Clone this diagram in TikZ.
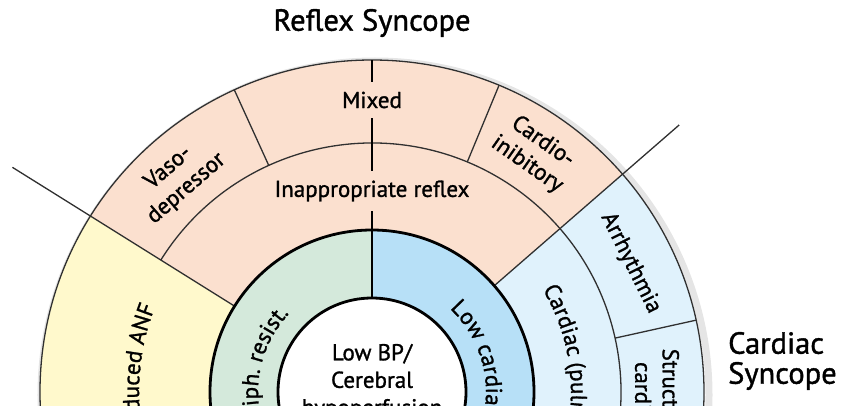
\documentclass[tikz,border=0pt]{standalone}
\usepackage{fontspec}
\setmainfont{PT Sans}[UprightFeatures={FakeBold=1.2}]
\usetikzlibrary{decorations.text}
\definecolor{reflexpink}{HTML}{FBE0CF}
\definecolor{anfyellow}{HTML}{FFF9CC}
\definecolor{resistgreen}{HTML}{D4E9DB}
\definecolor{outputblue}{HTML}{B7E0F7}
\definecolor{cardiacblue}{HTML}{E0F2FC}
\definecolor{rim}{HTML}{303030}
% annular sector: colour, from angle, to angle, outer radius, inner radius
\newcommand\ringpart[5]{\fill[#1] (#2:#4) arc[start angle=#2,end angle=#3,radius=#4] -- (#3:#5) arc[start angle=#3,end angle=#2,radius=#5] -- cycle;}
\newcommand\arctext[5]{\path[decorate,decoration={text along path,text align=#1,text={|\fontsize{23}{27}\selectfont|#5}}] (#2:#4) arc[start angle=#2,end angle=#3,radius=#4];}
\begin{document}
\begin{tikzpicture}[x=1pt,y=1pt,
  thinline/.style={draw=rim,line width=1.3pt},
  thickline/.style={draw=black,line width=2.8pt},
  lbl/.style={font=\fontsize{23}{27.5}\selectfont,inner sep=0pt,align=center},
  big/.style={font=\fontsize{30.5}{30}\selectfont,inner sep=0pt}]
\useasboundingbox (-372,-13) rectangle (478,392);
\clip (-372,-13) rectangle (478,392);
\draw[line width=7pt,black,opacity=0.1] (3,-3) circle[radius=334];
\ringpart{reflexpink}{41}{148}{332}{162}
\ringpart{anfyellow}{148}{270}{332}{162}
\ringpart{cardiacblue}{-90}{41}{332}{162}
\ringpart{resistgreen}{90}{270}{162}{94}
\ringpart{outputblue}{-90}{90}{162}{94}
\fill[white] (0,0) circle[radius=94];
\draw[thinline] (0,0) circle[radius=332];
\draw[thinline] (148:249) arc[start angle=148,end angle=-90,radius=249];
\foreach \a in {114.5,67.5,12.5}
  \draw[thinline] (\a:249) -- (\a:332);
\draw[thinline] (148:162) -- (148:424);
\draw[thinline] (41:162) -- (41:407);
\draw[thickline] (90:94) -- (90:332);
\draw[thickline] (0,0) circle[radius=162];
\draw[thickline] (0,0) circle[radius=94];
\node[big] at (0,369) {Reflex Syncope};
\node[big,anchor=west,align=left] at (356,31) {Cardiac\\Syncope};
\node[lbl,fill=reflexpink,inner ysep=10pt,inner xsep=3pt] at (0,292) {Mixed};
\node[lbl,fill=reflexpink,inner ysep=10pt,inner xsep=3pt] at (0,201) {Inappropriate reflex};
\node[lbl,rotate=41] at (132.3:289) {Vaso-\\depressor};
\node[lbl,rotate=-35] at (55.7:289) {Cardio-\\inibitory};
\node[lbl,rotate=-63.5] at (26.5:289) {Arrhythmia};
\node[lbl,rotate=-90] at (285,-5) {Structural\\cardiac};
\node[lbl] at (0,10) {Low BP/\\Cerebral\\hypoperfusion};
\arctext{left}{47}{-60}{114}{Low cardiac output}
\arctext{right}{240}{136.5}{114}{Low periph. resist.}
\arctext{right}{215}{158.5}{233}{Drug induced ANF}
\arctext{left}{31}{-40}{199}{Cardiac (pulmonary)}
\end{tikzpicture}
\end{document}
